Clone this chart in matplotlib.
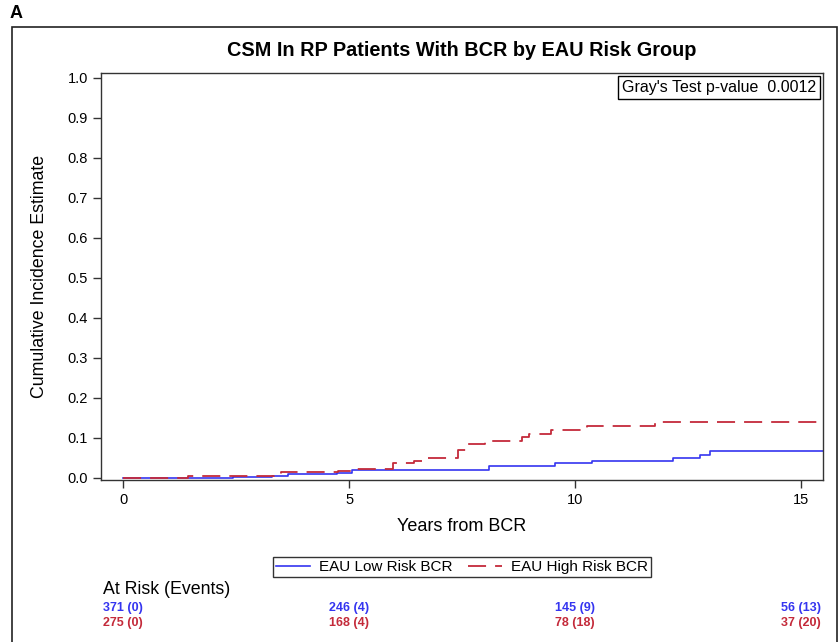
import matplotlib.pyplot as plt
from matplotlib.patches import Rectangle
import matplotlib.transforms as mtransforms

plt.rcParams['font.family'] = ['Liberation Sans', 'DejaVu Sans']

# cumulative incidence steps
low_years = [0, 2.43, 3.3, 3.65, 4.73, 5.06, 8.1, 9.55, 10.37, 12.17, 12.76, 13.0, 15.5]
low_cif = [0, 0.003, 0.004, 0.009, 0.0125, 0.02, 0.03, 0.0375, 0.042, 0.05, 0.058, 0.067, 0.067]
high_years = [0, 1.43, 3.33, 3.5, 4.75, 5.1, 5.97, 6.43, 6.67, 7.42, 7.63, 8.02, 8.83,
              8.98, 9.48, 10.27, 11.77, 15.5]
high_cif = [0, 0.004, 0.008, 0.014, 0.018, 0.023, 0.038, 0.042, 0.049, 0.071, 0.086,
            0.093, 0.103, 0.111, 0.119, 0.13, 0.14, 0.14]

# at risk table
risk_years = [0, 5, 10, 15]
low_at_risk = ['371 (0)', '246 (4)', '145 (9)', '56 (13)']
high_at_risk = ['275 (0)', '168 (4)', '78 (18)', '37 (20)']

blue = '#3535f0'
red = '#c42a3a'

fig = plt.figure(figsize=(8.4, 6.42), dpi=100)
ax = fig.add_axes([101/840, 1-480/642, 722/840, (480-72.7)/642])

ax.plot(low_years, low_cif, drawstyle='steps-post', color=blue, lw=1.2,
        label='EAU Low Risk BCR')
ax.plot(high_years, high_cif, drawstyle='steps-post', color=red, lw=1.3,
        linestyle=(0, (10, 5)), label='EAU High Risk BCR')

ax.set_xlim(-0.49, 15.49)
ax.set_ylim(-0.005, 1.013)
ax.set_xticks([0, 5, 10, 15])
ax.set_yticks([i/10 for i in range(11)])
ax.set_yticklabels([f'{i/10:.1f}' for i in range(11)])
ax.tick_params(labelsize=10.5, length=6, width=1, color='#333333', direction='out')
for s in ax.spines.values():
    s.set_color('#333333')
    s.set_linewidth(1)
ax.set_xlabel('Years from BCR', fontsize=13, labelpad=8)
ax.set_ylabel('Cumulative Incidence Estimate', fontsize=12.8, labelpad=14)

# title and panel letter
fig.text(462/840, 1-51/642, 'CSM In RP Patients With BCR by EAU Risk Group',
         ha='center', va='center', fontsize=14.3, fontweight='bold')
fig.text(10/840, 1-13/642, 'A', ha='left', va='center', fontsize=13, fontweight='bold')

# outer frame
fig.patches.append(Rectangle((12/840, -0.05), (837-12)/840, 1.05-27/642,
                             transform=fig.transFigure, fill=False,
                             edgecolor='#222222', lw=1.2))

# Gray's test box
ax.text(0.99, 0.983, "Gray's Test p-value  0.0012", transform=ax.transAxes,
        ha='right', va='top', fontsize=11.5,
        bbox=dict(boxstyle='square,pad=0.25', fc='white', ec='black', lw=1))

fig.legend(loc='center', bbox_to_anchor=(462/840, 1-567/642), ncol=2,
           fontsize=11, frameon=True, fancybox=False, edgecolor='black',
           handlelength=2.2, columnspacing=1.0, borderpad=0.2, handletextpad=0.6)
fig.legends[0].get_frame().set_linewidth(1)

fig.text(103/840, 1-590/642, 'At Risk (Events)', ha='left', va='center', fontsize=12.8)
trans = mtransforms.blended_transform_factory(ax.transData, fig.transFigure)
for x, a, b in zip(risk_years, low_at_risk, high_at_risk):
    ax.text(x, 1-608/642, a, transform=trans, ha='center', va='center',
            fontsize=9, fontweight='bold', color=blue, clip_on=False)
    ax.text(x, 1-623/642, b, transform=trans, ha='center', va='center',
            fontsize=9, fontweight='bold', color=red, clip_on=False)

fig.savefig('out.png', dpi=100)
